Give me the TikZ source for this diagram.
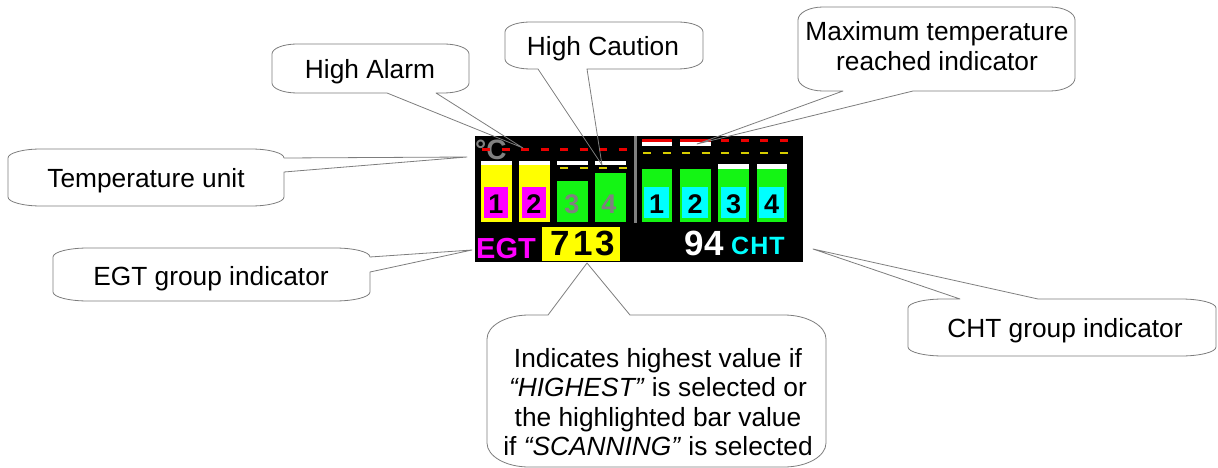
\documentclass[tikz,border=0pt]{standalone}
\usepackage{fontspec}
\setmainfont{Liberation Sans}
\definecolor{lcdyellow}{RGB}{255,255,0}
\definecolor{lcdmag}{RGB}{255,0,255}
\definecolor{lcdgreen}{RGB}{20,245,20}
\definecolor{lcdcyan}{RGB}{0,255,255}
\definecolor{lcdred}{RGB}{235,0,0}
\definecolor{lcddyel}{RGB}{215,205,0}
\definecolor{lcdgray}{RGB}{128,128,128}
\definecolor{bubline}{RGB}{125,125,125}
\newcommand\bubgeom[6]{%
 \pgfmathsetmacro\xa{#1}\pgfmathsetmacro\ya{#2}%
 \pgfmathsetmacro\xb{#3}\pgfmathsetmacro\yb{#4}%
 \pgfmathsetmacro\xal{#1+#5}\pgfmathsetmacro\xbl{#3-#5}%
 \pgfmathsetmacro\yal{#2+#6}\pgfmathsetmacro\ybl{#4-#6}%
 \pgfmathsetmacro\xac{#1+0.448*#5}\pgfmathsetmacro\xbc{#3-0.448*#5}%
 \pgfmathsetmacro\yac{#2+0.448*#6}\pgfmathsetmacro\ybc{#4-0.448*#6}}
% bottom wedge
\newcommand\bubB[3]{%
 \draw[bub] (\xal,\ya) -- (\xbl,\ya) .. controls (\xbc,\ya) and (\xb,\yac) .. (\xb,\yal)
  -- (\xb,\ybl) .. controls (\xb,\ybc) and (\xbc,\yb) .. (\xbl,\yb)
  -- (#2,\yb) -- (#3) -- (#1,\yb)
  -- (\xal,\yb) .. controls (\xac,\yb) and (\xa,\ybc) .. (\xa,\ybl)
  -- (\xa,\yal) .. controls (\xa,\yac) and (\xac,\ya) .. (\xal,\ya) -- cycle;}
% right wedge
\newcommand\bubR[3]{%
 \draw[bub] (\xal,\ya) -- (\xbl,\ya) .. controls (\xbc,\ya) and (\xb,\yac) .. (\xb,\yal)
  -- (\xb,#1) -- (#3) -- (\xb,#2)
  -- (\xb,\ybl) .. controls (\xb,\ybc) and (\xbc,\yb) .. (\xbl,\yb)
  -- (\xal,\yb) .. controls (\xac,\yb) and (\xa,\ybc) .. (\xa,\ybl)
  -- (\xa,\yal) .. controls (\xa,\yac) and (\xac,\ya) .. (\xal,\ya) -- cycle;}
% top wedge
\newcommand\bubT[3]{%
 \draw[bub] (\xal,\ya) -- (#1,\ya) -- (#3) -- (#2,\ya)
  -- (\xbl,\ya) .. controls (\xbc,\ya) and (\xb,\yac) .. (\xb,\yal)
  -- (\xb,\ybl) .. controls (\xb,\ybc) and (\xbc,\yb) .. (\xbl,\yb)
  -- (\xal,\yb) .. controls (\xac,\yb) and (\xa,\ybc) .. (\xa,\ybl)
  -- (\xa,\yal) .. controls (\xa,\yac) and (\xac,\ya) .. (\xal,\ya) -- cycle;}
\begin{document}
\begin{tikzpicture}[x=1pt,y=-1pt,
  bub/.style={draw=bubline,line width=0.8pt,line join=round},
  btxt/.style={inner sep=0pt,font=\fontsize{26.3}{29.5}\selectfont,align=center},
  dig/.style={inner sep=0pt,anchor=base,font=\bfseries\fontsize{27}{27}\selectfont},
  reddash/.style={lcdred,line width=3pt,dash pattern=on 8pt off 11.5pt},
  yeldash/.style={lcddyel,line width=2.5pt,dash pattern=on 8pt off 11.5pt}]
\useasboundingbox (0,0) rectangle (1218,468);
% ---------- display ----------
\fill[black] (475,136) rectangle (803,262);
\node[inner sep=0pt,anchor=base west,text=lcdgray,font=\bfseries\fontsize{28}{28}\selectfont] (unit) at (475,160) {°C};
\draw[reddash] (482,150) -- (627,150);
\draw[yeldash] (482,168) -- (627,168);
% EGT bars
\fill[white] (481,161) rectangle (512,165);
\fill[lcdyellow] (481,165) rectangle (512,222);
\fill[lcdmag] (484,187) rectangle (508,218);
\fill[white] (519,161) rectangle (550,165);
\fill[lcdyellow] (519,165) rectangle (550,222);
\fill[lcdmag] (522,187) rectangle (546,218);
\fill[white] (557,161) rectangle (588,165);
\fill[lcdgreen] (557,181) rectangle (588,222);
\fill[white] (595,161) rectangle (626,165);
\fill[lcdgreen] (595,173) rectangle (626,222);
\node[dig] (e1) at (496,213) {1};
\node[dig] (e2) at (534,213) {2};
\node[dig,text=lcdgray] (e3) at (572,213) {3};
\node[dig,text=lcdgray] (e4) at (609,213) {4};
% separator
\fill[lcdgray] (634,136) rectangle (637,223);
% CHT lines
\draw[reddash] (643,140.5) -- (788,140.5);
\fill[lcdred] (642,139) rectangle (672,142);
\fill[white] (642,142) rectangle (672,146);
\fill[lcdred] (680,139) rectangle (711,142);
\fill[white] (680,142) rectangle (711,146);
\draw[yeldash] (643,153) -- (788,153);
% CHT bars
\fill[lcdgreen] (642,169) rectangle (672,222);
\fill[lcdcyan] (644,187) rectangle (669,218);
\fill[lcdgreen] (680,169) rectangle (711,222);
\fill[lcdcyan] (682,187) rectangle (708,218);
\fill[white] (718,164) rectangle (749,169);
\fill[lcdgreen] (718,169) rectangle (749,222);
\fill[lcdcyan] (721,187) rectangle (746,218);
\fill[white] (757,164) rectangle (787,169);
\fill[lcdgreen] (757,169) rectangle (787,222);
\fill[lcdcyan] (759,187) rectangle (784,218);
\node[dig] (c1) at (656.5,213) {1};
\node[dig] (c2) at (695,213) {2};
\node[dig] (c3) at (733.5,213) {3};
\node[dig] (c4) at (771.5,213) {4};
% bottom row
\node[inner sep=0pt,anchor=base west,text=lcdmag,font=\bfseries\fontsize{29}{29}\selectfont] (egt) at (476,258) {EGT};
\fill[lcdyellow] (542,227) rectangle (620,261);
\node[inner sep=0pt,anchor=base,text=black,font=\bfseries\fontsize{35}{35}\selectfont] (egtval) at (583,255) {7\kern3pt1\kern3pt3};
\node[inner sep=0pt,anchor=base east,text=white,font=\bfseries\fontsize{35}{35}\selectfont] (chtval) at (724,255) {94};
\node[inner sep=0pt,anchor=base west,text=lcdcyan,font=\bfseries\fontsize{25}{25}\selectfont] (cht) at (731,254.5) {C\kern1ptH\kern1ptT};
% ---------- callout tips ----------
\coordinate (tipHA) at (523,148);
\coordinate (tipTU) at (467,157);
\coordinate (tipEGT) at (472,250);
\coordinate (tipHC) at (602,165);
\coordinate (tipMT) at (697,144);
\coordinate (tipCHT) at (813,249);
\coordinate (tipIND) at (587,263);
% ---------- callouts ----------
\bubgeom{272}{44}{469}{93}{25}{10}\bubB{387}{436}{tipHA}
\node[btxt,anchor=base] (ha) at (370,79) {High Alarm};
\bubgeom{8}{149}{284}{206}{33}{9}\bubR{158}{172}{tipTU}
\node[btxt,anchor=base] (tu) at (146,187) {Temperature unit};
\bubgeom{53}{248}{370}{301}{35}{9}\bubR{257}{272}{tipEGT}
\node[btxt,anchor=base] (egtlab) at (211,285) {EGT group indicator};
\bubgeom{505}{22}{703}{69}{25}{10}\bubB{538}{587}{tipHC}
\node[btxt,anchor=base] (hc) at (603,56) {High Caution};
\bubgeom{798}{7}{1075}{91}{25}{13}\bubB{843}{913}{tipMT}
\node[btxt] (mt) at (937,46) {Maximum temperature\\reached indicator};
\bubgeom{908}{299}{1216}{356}{35}{9}\bubT{960}{1038}{tipCHT}
\node[btxt,anchor=base] (chtlab) at (1065,337) {CHT group indicator};
\bubgeom{487}{315}{826}{467}{42}{24}\bubT{548}{630}{tipIND}
\node[btxt] (ind) at (658,402) {Indicates highest value if\\\textit{“HIGHEST”} is selected or\\the highlighted bar value\\if \textit{“SCANNING”} is selected};
\end{tikzpicture}
\end{document}
